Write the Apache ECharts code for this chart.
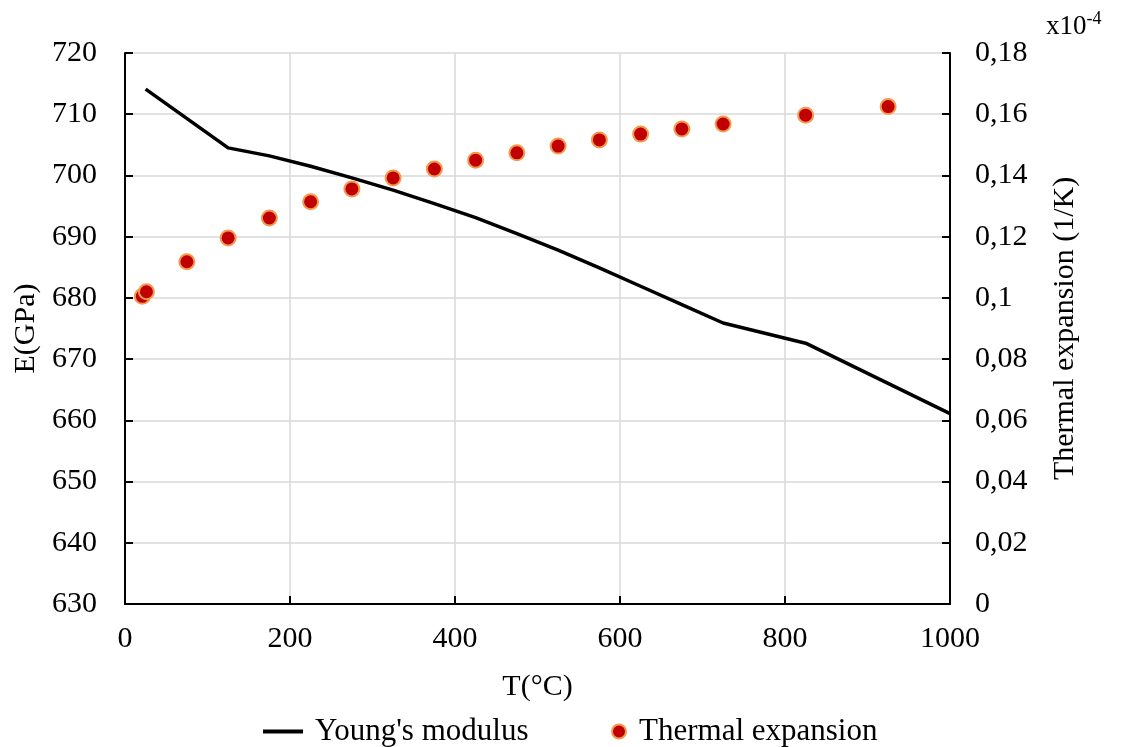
<!DOCTYPE html>
<html>
<head>
<meta charset="utf-8">
<script src="https://cdn.jsdelivr.net/npm/echarts@6/dist/echarts.min.js"></script>
<style>
html,body{margin:0;padding:0;background:#fff;}
#chart{width:1121px;height:747px;}
</style>
</head>
<body>
<div id="chart"></div>
<script>
// Young's modulus (GPa) vs temperature (°C)
const modulusT = [25, 125, 175, 225, 275, 325, 375, 425, 475, 525, 575, 625, 675, 725, 825, 1000];
const modulusE = [714.1, 704.5, 703.2, 701.5, 699.6, 697.6, 695.4, 693.1, 690.5, 687.8, 684.9, 681.9, 678.9, 675.9, 672.6, 661.1];
// Thermal expansion (x10^-4 1/K) vs temperature (°C)
const expansionT = [21, 26, 75, 125, 175, 225, 275, 325, 375, 425, 475, 525, 575, 625, 675, 725, 825, 925];
const expansionA = [0.1005, 0.1020, 0.1118, 0.1196, 0.1261, 0.1314, 0.1356, 0.1392, 0.1421, 0.1450, 0.1474, 0.1496, 0.1516, 0.1535, 0.1552, 0.1568, 0.1597, 0.1625];
const leftTicks = {min: 630, max: 720, interval: 10};
const rightTicks = {min: 0, max: 0.18, interval: 0.02};
const xTicks = {min: 0, max: 1000, interval: 200};

const FONT = '"Liberation Serif", "DejaVu Serif", serif';
const FS = 30;
const chart = echarts.init(document.getElementById('chart'), null, {renderer: 'canvas'});

const fmtComma = v => String(+(+v).toFixed(4)).replace('.', ',');

chart.setOption({
  backgroundColor: '#fff',
  animation: false,
  textStyle: {fontFamily: FONT, color: '#000'},
  grid: {left: 125, right: 171, top: 53, bottom: 143, containLabel: false},
  xAxis: {
    type: 'value', min: xTicks.min, max: xTicks.max, interval: xTicks.interval,
    name: 'T(°C)', nameLocation: 'middle', nameGap: 68,
    nameTextStyle: {fontFamily: FONT, fontSize: FS, color: '#000'},
    axisLine: {show: true, onZero: false, lineStyle: {color: '#000', width: 2}},
    axisTick: {show: true, inside: true, length: 8, lineStyle: {color: '#000', width: 2}},
    axisLabel: {fontFamily: FONT, fontSize: FS, color: '#000', margin: 20, formatter: v => String(v)},
    splitLine: {show: true, lineStyle: {color: '#d9d9d9', width: 1.5}}
  },
  yAxis: [{
    type: 'value', position: 'left', min: leftTicks.min, max: leftTicks.max, interval: leftTicks.interval,
    name: 'E(GPa)', nameLocation: 'middle', nameGap: 82, nameRotate: 90,
    nameTextStyle: {fontFamily: FONT, fontSize: FS, color: '#000'},
    axisLine: {show: true, onZero: false, lineStyle: {color: '#000', width: 2}},
    axisTick: {show: true, inside: true, length: 8, lineStyle: {color: '#000', width: 2}},
    axisLabel: {fontFamily: FONT, fontSize: FS, color: '#000', margin: 28},
    splitLine: {show: true, lineStyle: {color: '#d9d9d9', width: 1.5}}
  }, {
    type: 'value', position: 'right', min: rightTicks.min, max: rightTicks.max, interval: rightTicks.interval,
    name: 'Thermal expansion (1/K)', nameLocation: 'middle', nameGap: 100, nameRotate: 90,
    nameTextStyle: {fontFamily: FONT, fontSize: FS, color: '#000'},
    axisLine: {show: true, onZero: false, lineStyle: {color: '#000', width: 2}},
    axisTick: {show: true, inside: true, length: 8, lineStyle: {color: '#000', width: 2}},
    axisLabel: {fontFamily: FONT, fontSize: FS, color: '#000', margin: 25, formatter: fmtComma},
    splitLine: {show: false}
  }],
  legend: [{
    data: [{name: "Young's modulus", icon: 'path://M0,0 L10,0 L10,1 L0,1 Z'}],
    left: 258, top: 711, itemWidth: 54, itemHeight: 4,
    textStyle: {fontFamily: FONT, fontSize: 31, color: '#000'}
  }, {
    data: [{name: 'Thermal expansion', icon: 'circle'}],
    left: 606, top: 711, itemWidth: 30, itemHeight: 14,
    textStyle: {fontFamily: FONT, fontSize: 31, color: '#000'}
  }],
  graphic: [{
    type: 'text', left: 1046, top: 10,
    style: {
      text: '{a|x10}{b|-4}',
      rich: {
        a: {fontFamily: FONT, fontSize: 27, fill: '#000', verticalAlign: 'bottom'},
        b: {fontFamily: FONT, fontSize: 18, fill: '#000', verticalAlign: 'top', padding: [0, 0, 12, 0]}
      }
    }
  }],
  series: [{
    name: "Young's modulus", type: 'line', yAxisIndex: 0,
    data: modulusT.map((t, i) => [t, modulusE[i]]),
    showSymbol: false, symbol: 'none',
    lineStyle: {color: '#000', width: 3.5},
    itemStyle: {color: '#000'},
    z: 2
  }, {
    name: 'Thermal expansion', type: 'scatter', yAxisIndex: 1,
    data: expansionT.map((t, i) => [t, expansionA[i]]),
    symbol: 'circle', symbolSize: 15,
    itemStyle: {color: '#c00000', borderColor: '#f39a4f', borderWidth: 2, opacity: 1},
    z: 3
  }]
});
</script>
</body>
</html>
